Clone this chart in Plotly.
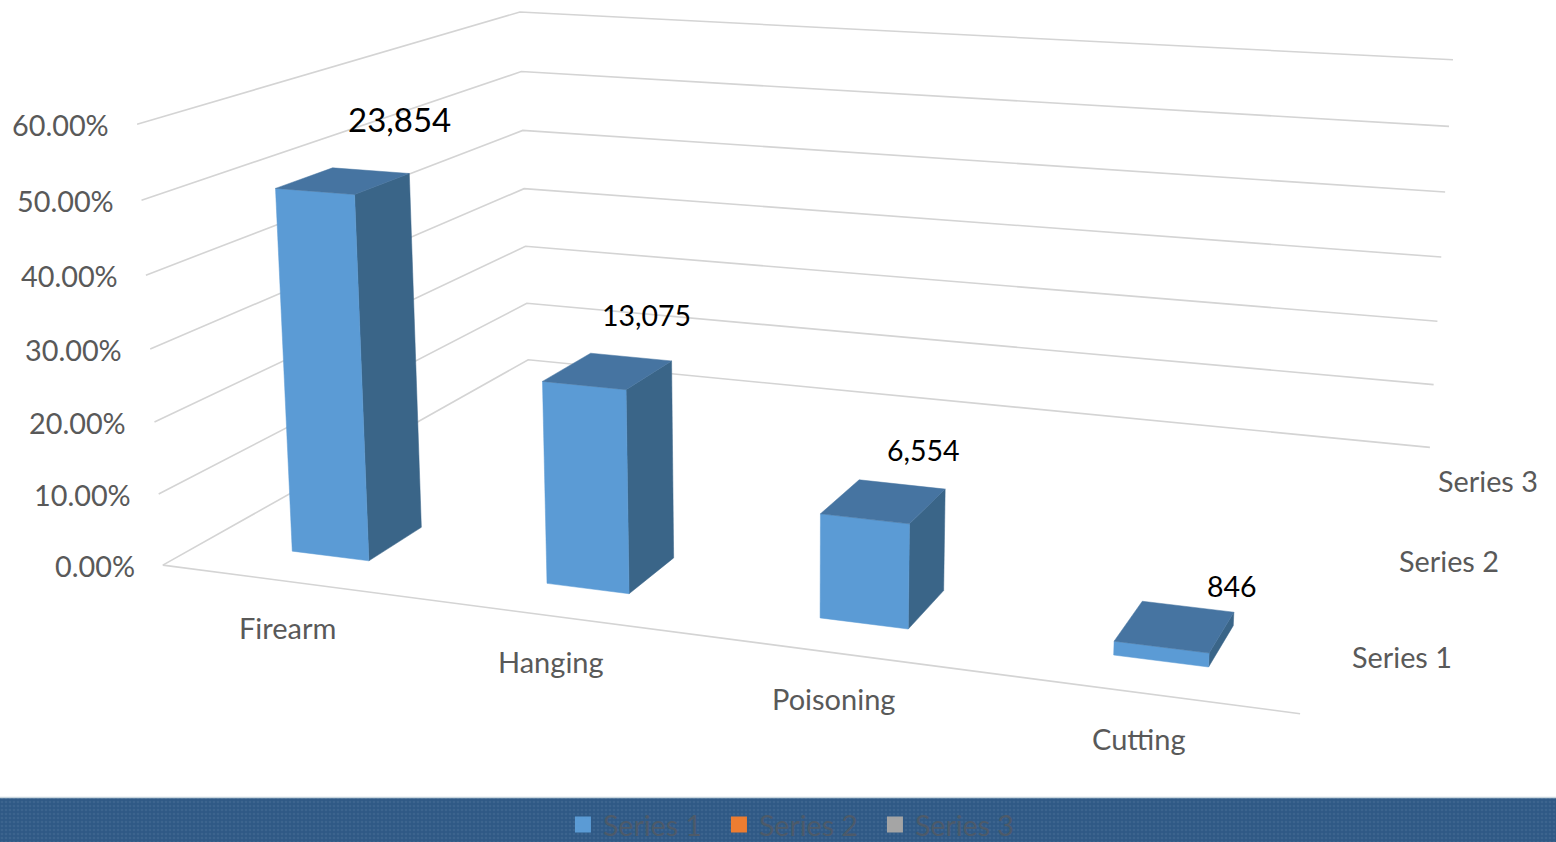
import numpy as np
import plotly.graph_objects as go

categories = ["Firearm", "Hanging", "Poisoning", "Cutting"]
count_labels = ["23,854", "13,075", "6,554", "846"]
percent_values = [50.4, 27.6, 13.9, 1.8]
series_names = ["Series 1", "Series 2", "Series 3"]
series_colors = ["#5B9BD5", "#ED7D31", "#A5A5A5"]
tick_values = [0, 10, 20, 30, 40, 50, 60]
tick_labels = ["0.00%", "10.00%", "20.00%", "30.00%", "40.00%", "50.00%", "60.00%"]

# Camera calibration: (category pos, series depth, percent) -> screen pixels
WORLD = [(0, 0, 0), (4, 0, 0), (0, 3, 0), (4, 3, 0), (0, 0, 60), (0, 3, 60), (4, 3, 60)]
SCREEN = [(163, 565), (1300, 714), (528, 360), (1430, 447), (137, 124), (520, 12), (1453, 60)]


def fit_camera(world, screen):
    rows, rhs = [], []
    for (u, v, w), (x, y) in zip(world, screen):
        rows.append([u, v, w, 1, 0, 0, 0, 0, -x * u, -x * v, -x * w])
        rhs.append(x)
        rows.append([0, 0, 0, 0, u, v, w, 1, -y * u, -y * v, -y * w])
        rhs.append(y)
    sol = np.linalg.lstsq(np.array(rows, float), np.array(rhs, float), rcond=None)[0]
    return np.append(sol, 1).reshape(3, 4)


CAM = fit_camera(WORLD, SCREEN)


def proj(u, v, w):
    p = CAM @ np.array([u, v, w, 1.0])
    return float(p[0] / p[2]), float(p[1] / p[2])


GRID = "#D4D4D4"
TICK = "#595959"
FONT = "Lato"
BAR_HALF_W = 0.154
BAR_HALF_D = 0.20
BAR_CENTER = 0.505
BAR_DEPTH_CENTER = 0.49
FACE_TOP = "#4674A1"
FACE_SIDE = "#3A6588"

fig = go.Figure()

# textured legend band
fig.add_trace(go.Bar(x=[778], y=[45], base=[797], width=[1556], showlegend=False, hoverinfo="skip",
                     marker=dict(color="#305A87", line_width=0,
                                 pattern=dict(shape=".", size=4, solidity=0.35, fgcolor="#4A6F98", bgcolor="#2F5985"))))


def add_line(pts):
    xy = [proj(*p) for p in pts]
    fig.add_trace(go.Scatter(x=[a for a, _ in xy], y=[b for _, b in xy], mode="lines", showlegend=False,
                             hoverinfo="skip", line=dict(color=GRID, width=1.6)))


for t in tick_values:
    add_line([(0, 0, t), (0, 3, t), (4, 3, t)])
add_line([(0, 0, 0), (4, 0, 0)])


def add_face(pts, color):
    xy = [proj(*p) for p in pts]
    fig.add_trace(go.Scatter(x=[a for a, _ in xy] + [xy[0][0]], y=[b for _, b in xy] + [xy[0][1]], mode="lines",
                             fill="toself", fillcolor=color, line=dict(color=color, width=0.5), showlegend=False,
                             hoverinfo="skip"))


annotations = []
LABEL_OFFSETS = [(56, -61), (39, -55), (40, -50), (58, -39)]
LABEL_SIZES = [33, 28.5, 28.5, 28.5]
for i, (pct, lab) in enumerate(zip(percent_values, count_labels)):
    u0, u1 = i + BAR_CENTER - BAR_HALF_W, i + BAR_CENTER + BAR_HALF_W
    v0, v1 = BAR_DEPTH_CENTER - BAR_HALF_D, BAR_DEPTH_CENTER + BAR_HALF_D
    add_face([(u1, v0, 0), (u1, v1, 0), (u1, v1, pct), (u1, v0, pct)], FACE_SIDE)
    add_face([(u0, v0, 0), (u1, v0, 0), (u1, v0, pct), (u0, v0, pct)], series_colors[0])
    add_face([(u0, v0, pct), (u1, v0, pct), (u1, v1, pct), (u0, v1, pct)], FACE_TOP)
    cx, cy = proj(i + 0.5, 0.5, pct)
    annotations.append(dict(x=cx + LABEL_OFFSETS[i][0], y=cy + LABEL_OFFSETS[i][1], text=lab, showarrow=False,
                            font=dict(family=FONT, size=LABEL_SIZES[i], color="#000000")))

for t, lab in zip(tick_values, tick_labels):
    x, y = proj(0, 0, t)
    annotations.append(dict(x=x - 26, y=y + 1, text=lab, xanchor="right", showarrow=False,
                            font=dict(family=FONT, size=28.8, color=TICK)))

for i, c in enumerate(categories):
    x, y = proj(i + 0.5, 0, 0)
    annotations.append(dict(x=x, y=y + 46, text=c, showarrow=False, font=dict(family=FONT, size=29, color=TICK)))

for j, s in enumerate(series_names):
    x, y = proj(4, j + 0.5, 0)
    annotations.append(dict(x=x + 23, y=y - 1, text=s, xanchor="left", showarrow=False,
                            font=dict(family=FONT, size=28.8, color=TICK)))

for s, c in zip(series_names, series_colors):
    fig.add_trace(go.Scatter(x=[None], y=[None], mode="markers", name=s,
                             marker=dict(symbol="square", size=17, color=c)))

fig.update_layout(
    width=1556, height=842, margin=dict(l=0, r=0, t=0, b=0, autoexpand=False), paper_bgcolor="white",
    plot_bgcolor="white",
    xaxis=dict(range=[0, 1556], visible=False, fixedrange=True),
    yaxis=dict(range=[842, 0], visible=False, fixedrange=True),
    annotations=annotations, hovermode=False, bargap=0,
    shapes=[dict(type="line", x0=0, x1=1556, y0=797.5, y1=797.5, line=dict(color="#C9D6DE", width=1.5))],
    legend=dict(orientation="h", x=0.3618, xanchor="left", y=-0.01, yanchor="bottom", bgcolor="rgba(0,0,0,0)",
                font=dict(family=FONT, size=28.5, color="#4D5A69"), entrywidth=111, entrywidthmode="pixels"),
)
fig.write_html("out.html", post_script="document.body.style.margin='0';document.documentElement.style.overflow='hidden';",
               config={"displayModeBar": False})
